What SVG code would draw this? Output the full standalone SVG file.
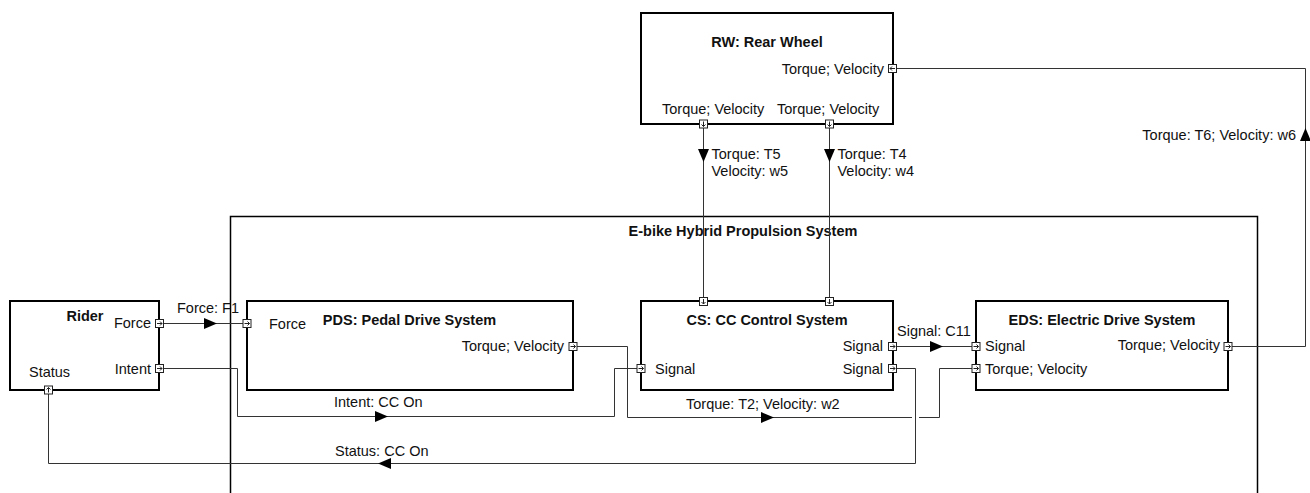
<svg xmlns="http://www.w3.org/2000/svg" xmlns:xlink="http://www.w3.org/1999/xlink" width="1310" height="493" viewBox="0 0 1310 493">
<style>
text{font-family:"Liberation Sans",Arial,sans-serif;font-size:14.5px;fill:#111}
.t{font-weight:bold}
.m{text-anchor:middle}
.e{text-anchor:end}
.box{fill:#fff;stroke:#000;stroke-width:2}
.frame{fill:none;stroke:#000;stroke-width:1.5}
.ln{fill:none;stroke:#333;stroke-width:1}
.ah{fill:#000;stroke:none}
</style>
<defs>
<g id="port">
<rect x="-4" y="-4" width="8" height="8" fill="#fff" stroke="#222" stroke-width="1"/>
<path d="M-2.5 0H2.5M0.5-2L2.5 0L0.5 2" fill="none" stroke="#222" stroke-width="1"/>
</g>
<path id="arr" d="M0 0L-13-5.5L-13 5.5Z"/>
</defs>

<g id="frame-ebike">
<rect class="frame" x="230.5" y="216.5" width="1027" height="300"/>
<text class="t m" x="743" y="236">E-bike Hybrid Propulsion System</text>
</g>

<g id="node-rider">
<rect class="box" x="10" y="301" width="149" height="89"/>
<text class="t m" x="85" y="321">Rider</text>
<text class="e" x="151" y="328">Force</text>
<text class="e" x="151" y="373.5">Intent</text>
<text x="29" y="377">Status</text>
</g>

<g id="node-pds">
<rect class="box" x="247" y="301" width="326" height="89"/>
<text class="t m" x="409.5" y="324.5">PDS: Pedal Drive System</text>
<text x="269" y="329">Force</text>
<text class="e" x="564" y="351">Torque; Velocity</text>
</g>

<g id="node-cs">
<rect class="box" x="641" y="301" width="252" height="89"/>
<text class="t m" x="767" y="324.5">CS: CC Control System</text>
<text class="e" x="883" y="351">Signal</text>
<text class="e" x="883" y="373.5">Signal</text>
<text x="655" y="373.5">Signal</text>
</g>

<g id="node-eds">
<rect class="box" x="976" y="301" width="252" height="89"/>
<text class="t m" x="1102" y="324.5">EDS: Electric Drive System</text>
<text x="985" y="351">Signal</text>
<text x="985" y="373.5">Torque; Velocity</text>
<text class="e" x="1220" y="350">Torque; Velocity</text>
</g>

<g id="node-rw">
<rect class="box" x="641" y="13" width="252" height="111"/>
<text class="t m" x="767" y="47">RW: Rear Wheel</text>
<text class="e" x="884" y="74">Torque; Velocity</text>
<text x="662" y="113.5">Torque; Velocity</text>
<text x="777" y="113.5">Torque; Velocity</text>
</g>

<g id="connectors">
<path class="ln" d="M159.5 323.5H247"/>
<use href="#arr" class="ah" transform="translate(217 323.5)"/>
<text x="177" y="313">Force: F1</text>

<path class="ln" d="M159.5 368.5H237.5V416.5H614.5V368.5H641"/>
<use href="#arr" class="ah" transform="translate(388 416.5)"/>
<text x="334" y="407">Intent: CC On</text>

<path class="ln" d="M892.5 368.5H915.5V463.5H48.5V390"/>
<use href="#arr" class="ah" transform="translate(378 463.5) rotate(180)"/>
<text x="335" y="456">Status: CC On</text>

<path class="ln" d="M573 346.5H627.5V417.5H912M919 417.5H939.5V368.5H976"/>
<use href="#arr" class="ah" transform="translate(774 417.5)"/>
<text x="686" y="409">Torque: T2; Velocity: w2</text>

<path class="ln" d="M892.5 346.5H976"/>
<use href="#arr" class="ah" transform="translate(943 346.5)"/>
<text x="897" y="336">Signal: C11</text>

<path class="ln" d="M703.5 124V301.5"/>
<use href="#arr" class="ah" transform="translate(703.5 162) rotate(90)"/>
<text x="711.5" y="159">Torque: T5</text>
<text x="711.5" y="176">Velocity: w5</text>

<path class="ln" d="M829.5 124V301.5"/>
<use href="#arr" class="ah" transform="translate(829.5 162) rotate(90)"/>
<text x="837.5" y="159">Torque: T4</text>
<text x="837.5" y="176">Velocity: w4</text>

<path class="ln" d="M1228 346.5H1305.5V68.5H892.5"/>
<use href="#arr" class="ah" transform="translate(1305.5 128) rotate(-90)"/>
<text class="e" x="1296" y="140">Torque: T6; Velocity: w6</text>
</g>

<g id="ports">
<use href="#port" transform="translate(159.5 323.5)"/>
<use href="#port" transform="translate(159.5 368.5)"/>
<use href="#port" transform="translate(48.5 390) rotate(-90)"/>
<use href="#port" transform="translate(247 323.5)"/>
<use href="#port" transform="translate(573 346.5)"/>
<use href="#port" transform="translate(703.5 301.5) rotate(90)"/>
<use href="#port" transform="translate(829.5 301.5) rotate(90)"/>
<use href="#port" transform="translate(641 368.5)"/>
<use href="#port" transform="translate(892.5 346.5)"/>
<use href="#port" transform="translate(892.5 368.5)"/>
<use href="#port" transform="translate(976 346.5)"/>
<use href="#port" transform="translate(976 368.5)"/>
<use href="#port" transform="translate(1228 346.5)"/>
<use href="#port" transform="translate(892.5 68.5) rotate(180)"/>
<use href="#port" transform="translate(703.5 124) rotate(90)"/>
<use href="#port" transform="translate(829.5 124) rotate(90)"/>
</g>
</svg>
